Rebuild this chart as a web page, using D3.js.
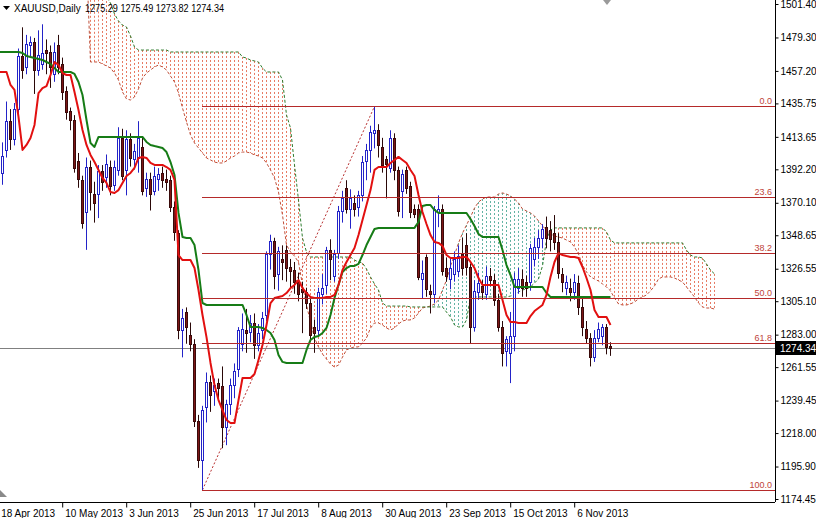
<!DOCTYPE html>
<html><head><meta charset="utf-8">
<script src="https://cdn.jsdelivr.net/npm/d3@7/dist/d3.min.js"></script>
<style>
html,body{margin:0;padding:0;background:#fff;}
svg{display:block;}
text{font-family:"Liberation Sans",Arial,sans-serif;}
</style></head><body>
<svg id="chart" width="816" height="518"></svg>
<script>
// ---------- DATA ----------
const symbolTitle = "XAUUSD,Daily";
const headerValues = "1275.29 1275.49 1273.82 1274.34";
const lastPrice = 1274.34;

const dateTickLabels = ["18 Apr 2013","10 May 2013","3 Jun 2013","25 Jun 2013","17 Jul 2013","8 Aug 2013","30 Aug 2013","23 Sep 2013","15 Oct 2013","6 Nov 2013"];
const dateTickBars = [0,16,32,48,64,80,96,112,128,144];

const priceTicks = [1501.40,1479.30,1457.20,1435.75,1413.65,1392.20,1370.10,1348.65,1326.55,1305.10,1283.00,1261.55,1239.45,1218.00,1195.90,1174.45];

const openP = [
1378,1390,1405,1424,1412,1432,1467,1460,1474,1476,
1458,1462,1471,1470,1455,1474,1462,1444,1431,1425,
1398,1385,1364,1394,1376,1376,1391,1387,1394,1382,
1392,1413,1392,1412,1399,1400,1407,1380,1386,1378,
1386,1390,1386,1385,1367,1350,1286,1298,1283,1277,
1226,1200,1235,1252,1246,1251,1249,1222,1237,1250,
1260,1277,1286,1285,1291,1276,1286,1296,1336,1345,
1323,1333,1339,1328,1326,1318,1313,1311,1304,1288,
1286,1310,1316,1339,1322,1337,1365,1380,1366,1370,
1367,1375,1398,1405,1416,1418,1407,1399,1393,1413,
1392,1378,1392,1381,1366,1366,1320,1334,1312,1310,
1364,1366,1327,1320,1323,1325,1336,1342,1328,1288,
1311,1315,1310,1322,1319,1306,1288,1272,1271,1282,
1314,1320,1318,1318,1333,1341,1347,1354,1352,1350,
1344,1323,1314,1314,1311,1317,1301,1287,1281,1268,
1281,1282,1288,1275.29];
const highP = [
1398,1410,1437,1432,1436,1472,1486,1481,1480,1479,
1484,1488,1478,1474,1476,1481,1466,1447,1433,1428,
1403,1388,1400,1398,1384,1395,1395,1402,1398,1398,
1420,1419,1418,1416,1409,1424,1414,1390,1390,1394,
1393,1394,1392,1388,1371,1352,1300,1301,1291,1280,
1230,1236,1258,1256,1254,1254,1262,1240,1254,1264,
1288,1297,1300,1296,1297,1290,1298,1338,1349,1347,
1341,1342,1342,1333,1331,1324,1318,1314,1307,1293,
1314,1323,1341,1346,1339,1368,1378,1385,1379,1375,
1378,1401,1409,1421,1433.8,1422,1413,1401,1418,1416,
1394,1392,1394,1384,1369,1369,1332,1336,1316,1368,
1375,1369,1334,1333,1338,1342,1347,1350,1330,1319,
1324,1319,1328,1327,1323,1310,1292,1282,1298,1324,
1327,1326,1322,1343,1347,1352,1356,1361,1358,1362,
1350,1327,1322,1320,1323,1322,1308,1292,1284,1286,
1291,1290,1290,1278];
const lowP = [
1373,1382,1400,1405,1408,1424,1452,1455,1466,1442,
1454,1458,1455,1446,1450,1455,1438,1425,1418,1390,
1380,1353,1339,1365,1357,1360,1378,1380,1375,1378,
1388,1385,1375,1394,1392,1390,1375,1374,1365,1375,
1378,1380,1378,1364,1345,1280,1268,1277,1272,1222,
1195,1180.5,1225,1232,1236,1240,1208,1210,1230,1241,
1255,1272,1271,1278,1267,1272,1280,1292,1326,1313,
1312,1319,1318,1314,1310,1305,1284,1300,1278,1271,
1282,1303,1310,1319,1318,1333,1357,1363,1353,1361,
1361,1371,1385,1390,1406,1400,1390,1373,1390,1385,
1361,1360,1376,1360,1360,1319,1307,1308,1297,1304,
1354,1322,1318,1313,1318,1321,1322,1322,1277,1285,
1306,1306,1306,1315,1302,1285,1262,1262,1251,1272,
1310,1308,1308,1312,1328,1333,1340,1340,1338,1339,
1320,1311,1309,1305,1306,1296,1282,1277,1262,1265,
1278,1276,1270,1269];
const closeP = [
1392,1401,1424,1412,1432,1467,1458,1475,1476,1458,
1468,1469,1469,1460,1470,1460,1443,1430,1425,1393,
1386,1357,1394,1377,1370,1391,1384,1396,1381,1394,
1413,1388,1412,1400,1404,1413,1378,1386,1376,1388,
1389,1385,1384,1367,1351,1286,1294,1288,1277,1226,
1200,1233,1252,1243,1250,1248,1222,1237,1250,1259,
1286,1287,1284,1291,1276,1284,1294,1336,1345,1322,
1338,1331,1327,1325,1318,1310,1311,1304,1283,1284,
1311,1314,1339,1333,1336,1365,1373,1366,1373,1366,
1375,1397,1405,1417,1418,1408,1395,1396,1413,1392,
1365,1389,1380,1364,1363,1321,1324,1313,1310,1366,
1366,1325,1322,1327,1333,1335,1327,1328,1288,1312,
1317,1311,1322,1319,1306,1288,1271,1280,1282,1320,
1320,1314,1314,1340,1341,1347,1353,1347,1346,1344,
1324,1318,1318,1311,1318,1301,1288,1281,1268,1281,
1287,1288,1275,1274.34];

// Ichimoku lines (one value per bar)
const tenkan = [
1456.5,1456.5,1456.5,1447.9,1444.6,1426.8,1405.0,1408.3,1412.9,1421.5,
1442.6,1445.9,1447.2,1454.5,1463.1,1461.1,1455.8,1454.5,1454.5,1443.3,
1431.4,1418.2,1408.3,1401.7,1397.0,1391.8,1386.5,1383.2,1377.2,1376.6,
1378.5,1383.2,1387.8,1389.8,1393.1,1399.7,1400.4,1399.7,1396.4,1395.1,
1395.1,1395.1,1393.7,1391.8,1385.2,1335.6,1332.3,1332.3,1332.3,1327.0,
1312.5,1296.0,1281.4,1264.3,1249.7,1239.8,1233.2,1226.6,1224.6,1224.6,
1239.8,1254.4,1254.4,1254.4,1257.0,1266.3,1276.2,1289.4,1303.9,1307.2,
1307.9,1308.5,1310.5,1313.8,1315.8,1319.1,1313.8,1310.5,1307.9,1307.2,
1307.2,1307.2,1307.9,1307.9,1309.2,1315.8,1325.7,1331.0,1335.6,1340.2,
1348.8,1358.7,1368.6,1378.5,1391.8,1393.7,1393.7,1393.7,1396.4,1398.4,
1400.4,1398.4,1396.4,1391.8,1387.8,1375.2,1364.0,1356.1,1348.8,1344.2,
1343.6,1341.6,1335.6,1333.6,1333.6,1333.6,1334.3,1334.3,1331.0,1327.0,
1320.4,1315.8,1315.8,1315.8,1315.8,1315.8,1305.9,1296.0,1291.4,1291.4,
1290.7,1290.7,1290.7,1295.3,1298.6,1300.6,1302.6,1309.2,1321.1,1331.0,
1336.9,1335.6,1334.9,1334.3,1334.3,1333.6,1327.7,1320.4,1312.5,1299.3,
1294.7,1294.7,1294.7,1289.4];
const kijun = [
1469.7,1469.7,1469.7,1469.7,1469.7,1469.7,1469.0,1467.1,1466.4,1465.7,
1465.1,1464.4,1463.1,1461.8,1459.1,1456.5,1456.5,1456.5,1456.5,1455.2,
1449.9,1441.3,1424.8,1409.6,1407.0,1413.6,1413.6,1413.6,1413.6,1413.6,
1413.6,1413.6,1413.6,1413.6,1413.6,1413.6,1413.6,1410.3,1408.3,1407.6,
1407.0,1406.3,1403.6,1397.0,1388.5,1363.4,1347.5,1346.9,1346.9,1342.2,
1325.7,1303.9,1302.6,1302.6,1302.6,1302.6,1302.6,1302.6,1302.6,1302.6,
1302.6,1302.6,1296.0,1288.1,1288.1,1288.1,1287.4,1286.1,1284.1,1279.5,
1269.6,1265.0,1264.3,1264.3,1264.3,1264.3,1264.3,1272.9,1279.5,1281.5,
1282.1,1284.1,1287.4,1296.0,1307.2,1315.8,1324.4,1327.0,1328.4,1328.4,
1329.7,1335.6,1342.2,1347.5,1352.8,1353.5,1353.5,1353.5,1353.5,1353.5,
1353.5,1353.5,1353.5,1353.5,1353.5,1357.4,1368.0,1368.6,1368.6,1365.3,
1363.4,1363.4,1363.4,1363.4,1363.4,1363.4,1363.4,1363.4,1359.4,1354.8,
1349.5,1347.5,1347.5,1347.5,1347.5,1347.5,1338.9,1329.0,1322.4,1314.5,
1314.5,1314.5,1314.5,1314.5,1314.5,1314.5,1314.5,1310.5,1307.9,1307.9,
1307.9,1307.9,1307.9,1307.9,1307.9,1307.9,1307.9,1307.9,1307.9,1307.9,
1307.9,1307.9,1307.9,1307.9];

// Cloud (Senkou spans), first value belongs to bar cloudStart
const cloudStart = 22;
const spanA = [
1530,1463.1,1463.1,1463.1,1461.8,1460.5,1459.1,1455.8,1451.2,1443.3,
1438.7,1438.0,1440.0,1445.3,1452.5,1455.8,1457.8,1459.8,1461.1,1459.8,
1457.8,1453.8,1449.9,1442.6,1432.7,1423.5,1414.9,1409.6,1406.3,1403.0,
1399.7,1398.4,1397.0,1396.4,1396.4,1397.7,1399.7,1401.0,1403.0,1403.6,
1403.6,1403.0,1401.7,1401.0,1399.7,1396.4,1391.8,1386.5,1377.2,1362.0,
1342.2,1337.6,1334.9,1330.9,1315.8,1302.6,1291.4,1280.8,1274.9,1270.2,
1266.9,1263.6,1261.6,1262.9,1268.2,1272.9,1274.2,1274.9,1274.9,1277.5,
1280.8,1287.4,1290.7,1290.7,1289.4,1287.4,1286.1,1287.4,1290.1,1292.0,
1292.7,1292.7,1294.0,1297.3,1300.6,1301.3,1301.9,1303.3,1305.9,1312.5,
1319.1,1328.4,1335.6,1343.5,1350.1,1355.4,1360.7,1366.6,1370.6,1372.6,
1373.9,1373.9,1373.9,1375.9,1376.6,1375.9,1374.6,1372.6,1370.0,1366.0,
1364.7,1363.4,1361.4,1358.1,1354.8,1352.1,1349.5,1348.2,1347.5,1346.8,
1345.5,1344.2,1340.9,1336.3,1329.0,1324.4,1321.1,1319.8,1318.4,1316.5,
1314.5,1311.9,1307.2,1303.3,1302.6,1302.6,1303.3,1304.6,1306.6,1307.9,
1309.2,1311.9,1315.2,1319.8,1321.1,1321.1,1321.1,1320.4,1319.1,1317.8,
1314.5,1311.2,1307.9,1303.9,1301.3,1300.6,1300.6,1299.9];
const spanB = [
1540,1520,1520,1515,1510,1506,1502,1494.8,1490.2,1487.5,
1486.2,1480.3,1473.0,1471.0,1471.0,1471.0,1471.0,1471.0,1471.0,1471.0,
1471.0,1469.7,1469.7,1469.7,1469.7,1469.7,1469.7,1469.7,1469.7,1469.7,
1469.7,1469.7,1469.7,1469.7,1469.7,1469.7,1469.7,1469.7,1469.7,1466.4,
1465.7,1464.4,1463.8,1463.1,1459.1,1456.5,1456.5,1456.5,1456.5,1451.2,
1428.1,1419.5,1395.1,1371.9,1346.8,1337.6,1334.3,1334.3,1334.3,1334.3,
1334.3,1334.3,1334.3,1334.3,1334.3,1334.3,1334.3,1332.3,1331.0,1330.3,
1326.4,1321.1,1316.5,1312.5,1303.9,1301.9,1301.9,1301.9,1301.9,1301.9,
1301.9,1301.3,1301.3,1301.3,1301.3,1301.3,1301.3,1301.3,1301.3,1301.3,
1297.9,1294.7,1289.4,1288.1,1288.1,1292.7,1307.9,1307.9,1307.9,1307.9,
1307.9,1307.9,1307.9,1307.9,1307.9,1307.9,1308.5,1309.2,1311.2,1312.5,
1313.2,1314.5,1317.1,1319.8,1328.4,1345.5,1352.1,1353.5,1353.5,1353.5,
1353.5,1353.5,1353.5,1353.5,1353.5,1353.5,1353.5,1353.5,1353.5,1353.5,
1350.8,1345.5,1343.6,1343.6,1343.6,1343.6,1343.6,1343.6,1343.6,1343.6,
1343.6,1343.6,1343.6,1343.6,1343.6,1343.6,1343.6,1343.6,1343.6,1343.6,
1338.9,1335.6,1334.3,1334.3,1333.6,1329.7,1325.7,1323.1];

// Fibonacci retracement anchors
const fibLowBar = 51, fibLowPrice = 1180.5;
const fibHighBar = 94, fibHighPrice = 1433.8;
const fibRatios = [0, 23.6, 38.2, 50, 61.8, 100];
const fibLabels = ["0.0","23.6","38.2","50.0","61.8","100.0"];

// ---------- DRAW ----------
const W = 816, H = 518;
const plotRight = 775, plotBottom = 502;
const svg = d3.select("#chart");
svg.append("rect").attr("width", W).attr("height", H).attr("fill", "#fff");

const x = d3.scaleLinear().domain([0, 1]).range([-2.3, 1.7]);   // 4 px per bar
const y = d3.scaleLinear().domain([1174.45, 1501.40]).range([499, 4]);
const px = i => Math.round(x(i));

svg.append("defs").append("clipPath").attr("id", "plot")
  .append("rect").attr("x", 0).attr("y", 0).attr("width", plotRight).attr("height", plotBottom);
const g = svg.append("g").attr("clip-path", "url(#plot)");

// cloud hatching (dotted vertical bars)
const cloud = spanA.map((a, k) => ({ i: cloudStart + k, a: a, b: spanB[k] }));
g.append("g").selectAll("line").data(cloud).join("line")
  .attr("x1", d => px(d.i) + 0.5).attr("x2", d => px(d.i) + 0.5)
  .attr("y1", d => y(Math.max(d.a, d.b))).attr("y2", d => y(Math.min(d.a, d.b)))
  .attr("stroke", d => d.a >= d.b ? "#62b3a3" : "#e77a63")
  .attr("stroke-width", 1)
  .attr("stroke-dasharray", "2,2");

// senkou span borders
const lineGen = d3.line().x(d => px(d.i) + 0.5).y(d => y(d.v));
g.append("path").datum(cloud.map(d => ({ i: d.i, v: d.a })))
  .attr("d", lineGen).attr("fill", "none").attr("stroke", "#c0503a")
  .attr("stroke-width", 1).attr("stroke-dasharray", "3,2");
g.append("path").datum(cloud.map(d => ({ i: d.i, v: d.b })))
  .attr("d", lineGen).attr("fill", "none").attr("stroke", "#2f7d2f")
  .attr("stroke-width", 1).attr("stroke-dasharray", "3,2");

// fibonacci levels
const fibRange = fibHighPrice - fibLowPrice;
const fibs = fibRatios.map((r, k) => ({ label: fibLabels[k], price: fibHighPrice - r / 100 * fibRange }));
const fg = svg.append("g");
fg.selectAll("line").data(fibs).join("line")
  .attr("x1", px(fibLowBar)).attr("x2", plotRight)
  .attr("y1", d => Math.round(y(d.price)) + 0.5).attr("y2", d => Math.round(y(d.price)) + 0.5)
  .attr("stroke", "#b52a2a").attr("stroke-width", 1);
fg.selectAll("text").data(fibs).join("text")
  .attr("x", 772).attr("y", d => Math.round(y(d.price)) - 2)
  .attr("text-anchor", "end").attr("font-size", "9px").attr("fill", "#c0443a")
  .text(d => d.label);
// trend line
g.append("line")
  .attr("x1", px(fibLowBar) + 0.5).attr("y1", y(fibLowPrice))
  .attr("x2", px(fibHighBar) + 0.5).attr("y2", y(fibHighPrice))
  .attr("stroke", "#b83030").attr("stroke-width", 1).attr("stroke-dasharray", "2,2");

// current price line
g.append("line").attr("x1", 0).attr("x2", plotRight)
  .attr("y1", Math.round(y(lastPrice)) + 0.5).attr("y2", Math.round(y(lastPrice)) + 0.5)
  .attr("stroke", "#808080").attr("stroke-width", 1);

// candles
const bars = openP.map((o, i) => ({ i, o, h: highP[i], l: lowP[i], c: closeP[i] }));
const cg = g.append("g");
cg.selectAll("line").data(bars).join("line")
  .attr("x1", d => px(d.i) + 0.5).attr("x2", d => px(d.i) + 0.5)
  .attr("y1", d => y(d.h)).attr("y2", d => y(d.l))
  .attr("stroke", d => d.c >= d.o ? "#2323c8" : "#2a0808").attr("stroke-width", 1);
cg.selectAll("rect").data(bars).join("rect")
  .attr("x", d => px(d.i) - 0.5).attr("width", 2)
  .attr("y", d => Math.round(y(Math.max(d.o, d.c))) + 0.5)
  .attr("height", d => Math.max(1, Math.round(y(Math.min(d.o, d.c))) - Math.round(y(Math.max(d.o, d.c)))))
  .attr("fill", d => d.c >= d.o ? "#ffffff" : "#7d1616")
  .attr("stroke", d => d.c >= d.o ? "#2323c8" : "#3a0a0a").attr("stroke-width", 1);

// tenkan / kijun
const ln = d3.line().x((v, i) => px(i) + 0.5).y(v => y(v));
g.append("path").datum(kijun).attr("d", ln).attr("fill", "none")
  .attr("stroke", "#167c16").attr("stroke-width", 2).attr("stroke-linejoin", "round");
g.append("path").datum(tenkan).attr("d", ln).attr("fill", "none")
  .attr("stroke", "#e21010").attr("stroke-width", 2).attr("stroke-linejoin", "round");

// axes
const yAxis = d3.axisRight(y).tickValues(priceTicks).tickFormat(d3.format(".2f"))
  .tickSize(3).tickPadding(2);
const ya = svg.append("g").attr("transform", `translate(${plotRight + 0.5},0)`).call(yAxis);
ya.select(".domain").attr("d", `M0,0V${plotBottom}`).attr("stroke", "#000");
ya.selectAll("text").attr("font-size", "10px").attr("fill", "#000")
  .attr("font-family", "Liberation Sans, Arial, sans-serif");

const xAxis = d3.axisBottom(x).tickValues(dateTickBars).tickFormat((d, k) => dateTickLabels[k])
  .tickSize(5).tickPadding(2);
const xa = svg.append("g").attr("transform", `translate(0,${plotBottom + 0.5})`).call(xAxis);
xa.select(".domain").attr("d", `M0,0H${plotRight}`).attr("stroke", "#000");
xa.selectAll(".tick line").attr("transform", "translate(0.5,0)");
xa.selectAll("text").attr("text-anchor", "start").attr("x", 3).attr("font-size", "10px")
  .attr("fill", "#000").attr("font-family", "Liberation Sans, Arial, sans-serif");

// last price tag
const ly = Math.round(y(lastPrice));
svg.append("rect").attr("x", plotRight + 1).attr("y", ly - 7).attr("width", 40).attr("height", 14).attr("fill", "#000");
svg.append("text").attr("x", plotRight + 5).attr("y", ly + 4).attr("font-size", "10px")
  .attr("fill", "#fff").text(lastPrice.toFixed(2));

// header
svg.append("path").attr("d", "M3,6 L10,6 L6.5,10 Z").attr("fill", "#000");
svg.append("text").attr("x", 14).attr("y", 12).attr("font-size", "10px").attr("fill", "#000").text(symbolTitle);
svg.append("text").attr("x", 85).attr("y", 12).attr("font-size", "10px").attr("fill", "#000")
  .attr("textLength", 139).attr("lengthAdjust", "spacingAndGlyphs").text(headerValues);

// small chart markers
svg.append("path").attr("d", "M603,0 L611,0 L607,5 Z").attr("fill", "#9a9a9a");
svg.append("path").attr("d", "M0,490 L7,497 L0,497 Z").attr("fill", "#8a8a8a");
</script>
</body></html>
